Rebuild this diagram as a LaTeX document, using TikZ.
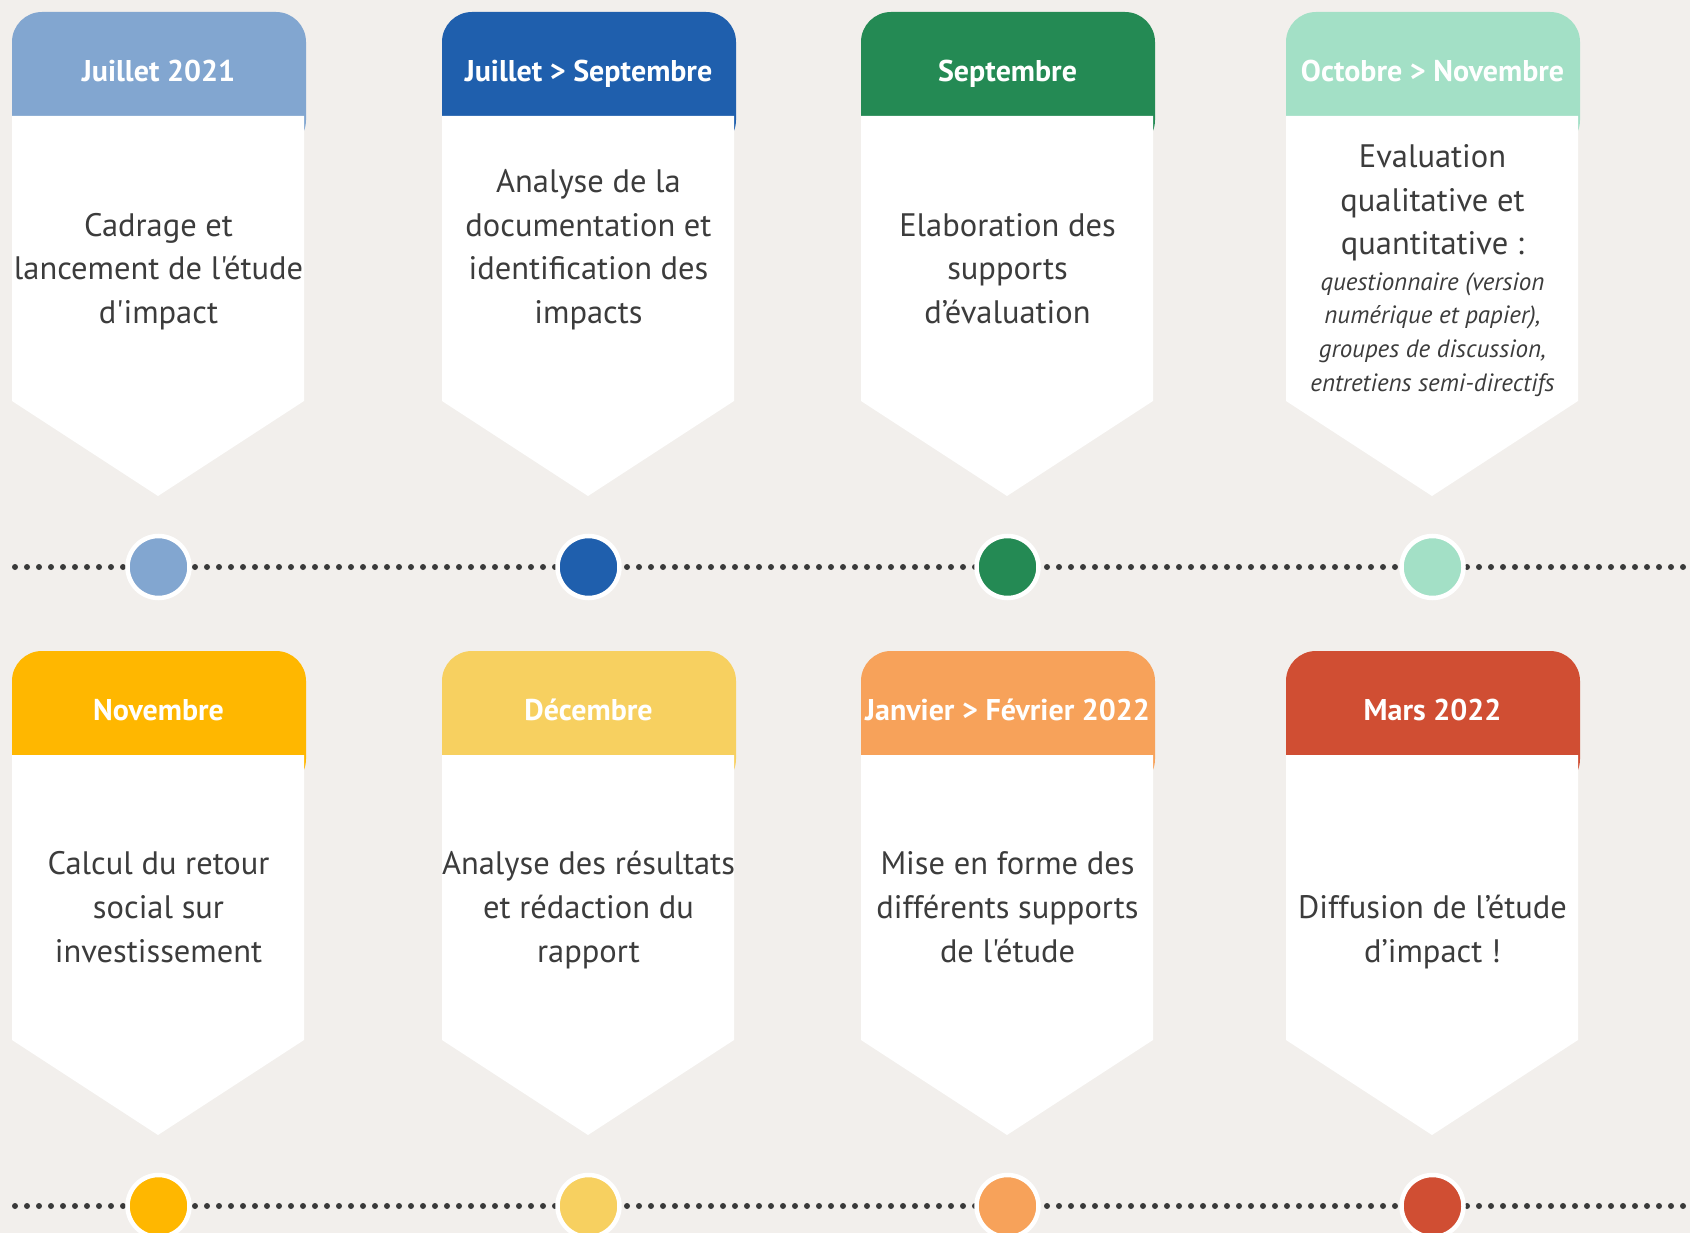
\documentclass[tikz,border=0pt]{standalone}
\usepackage{fontspec}
\setmainfont{PT Sans}[Ligatures=TeXOff]
\definecolor{bg}{RGB}{242,239,236}
\definecolor{txt}{RGB}{60,60,60}
\definecolor{dotc}{RGB}{58,58,58}
\definecolor{cA}{RGB}{130,166,208}
\definecolor{cB}{RGB}{31,95,173}
\definecolor{cC}{RGB}{36,138,84}
\definecolor{cD}{RGB}{163,224,198}
\definecolor{cE}{RGB}{255,183,0}
\definecolor{cF}{RGB}{247,208,96}
\definecolor{cG}{RGB}{247,162,90}
\definecolor{cH}{RGB}{208,78,51}
\newcommand\cardshape[3]{%
  \fill[#3, rounded corners=30pt] (#1,#2) rectangle ++(294,138);
  \fill[white] (#1,#2+104) -- ++(292,0) -- ++(0,285) -- ++(-146,95) -- ++(-146,-95) -- cycle;
}
\begin{document}
\begin{tikzpicture}[x=1pt,y=-1pt,
  head/.style={text=white, font=\fontsize{30}{36}\selectfont\bfseries, inner sep=0pt, anchor=base},
  body/.style={text=txt, font=\fontsize{32.5}{43.8}\selectfont, align=center, inner sep=0pt, anchor=base},
  ital/.style={text=txt, font=\fontsize{25}{33.9}\selectfont\itshape, align=center, inner sep=0pt, anchor=base},
  dotline/.style={dotc, line width=6pt, line cap=round, dash pattern=on 0pt off 12pt},
  marker/.style={circle, draw=white, line width=4.5pt, minimum size=62pt, inner sep=0pt}]
\useasboundingbox (0,0) rectangle (1690,1233);
\fill[bg] (0,0) rectangle (1690,1233);
% cards
\cardshape{12}{12}{cA}
\cardshape{442}{12}{cB}
\cardshape{861}{12}{cC}
\cardshape{1286}{12}{cD}
\cardshape{12}{651}{cE}
\cardshape{442}{651}{cF}
\cardshape{861}{651}{cG}
\cardshape{1286}{651}{cH}
% headers
\node[head] (h1) at (158.5,81.7) {Juillet 2021};
\node[head] (h2) at (588.5,81.7) {Juillet > Septembre};
\node[head] (h3) at (1007.5,81.7) {Septembre};
\node[head] (h4) at (1432.5,81.7) {Octobre > Novembre};
\node[head] (h5) at (158.5,720) {Novembre};
\node[head] (h6) at (588.5,720) {Décembre};
\node[head] (h7) at (1007.5,720) {Janvier > Février 2022};
\node[head] (h8) at (1432.5,720) {Mars 2022};
% bodies (anchor = baseline of last line)
\node[body] (b1) at (158.5,323.8) {Cadrage et\\lancement de l'étude\\d'impact};
\node[body] (b2) at (588.5,323.8) {Analyse de la\\documentation et\\identification des\\impacts};
\node[body] (b3) at (1007.5,323.8) {Elaboration des\\supports\\d’évaluation};
\node[body] (b4) at (1432.5,255) {Evaluation\\qualitative et\\quantitative :};
\node[ital] (b4i) at (1432.5,391.7) {questionnaire (version\\numérique et papier),\\groupes de discussion,\\entretiens semi-directifs};
\node[body] (b5) at (158.5,962.3) {Calcul du retour\\social sur\\investissement};
\node[body] (b6) at (588.5,962.3) {Analyse des résultats\\et rédaction du\\rapport};
\node[body] (b7) at (1007.5,962.3) {Mise en forme des\\différents supports\\de l'étude};
\node[body] (b8) at (1432.5,962) {Diffusion de l’étude\\d’impact !};
% timelines
\coordinate (l1a) at (15,567);
\coordinate (l1b) at (1700,567);
\coordinate (l2a) at (15,1206);
\coordinate (l2b) at (1700,1206);
\draw[dotline] (l1a) -- (l1b);
\draw[dotline] (l2a) -- (l2b);
\node[marker, fill=cA] (m1) at (158.5,567) {};
\node[marker, fill=cB] (m2) at (588.5,567) {};
\node[marker, fill=cC] (m3) at (1007.5,567) {};
\node[marker, fill=cD] (m4) at (1432.5,567) {};
\node[marker, fill=cE] (m5) at (158.5,1206) {};
\node[marker, fill=cF] (m6) at (588.5,1206) {};
\node[marker, fill=cG] (m7) at (1007.5,1206) {};
\node[marker, fill=cH] (m8) at (1432.5,1206) {};
\end{tikzpicture}
\end{document}
